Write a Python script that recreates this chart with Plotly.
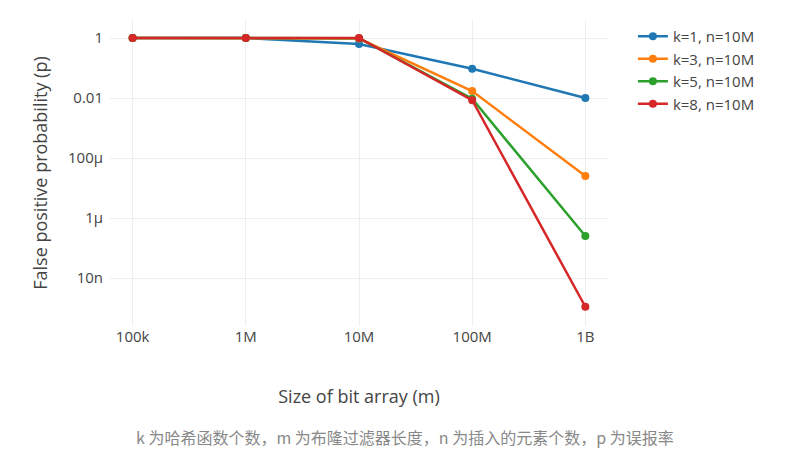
import plotly.graph_objects as go

m_sizes = [1e5, 1e6, 1e7, 1e8, 1e9]
x_ticks = [1e5, 1e6, 1e7, 1e8, 1e9]
x_labels = ["100k", "1M", "10M", "100M", "1B"]
y_ticks = [1, 1e-2, 1e-4, 1e-6, 1e-8]
y_labels = ["1", "0.01", "100µ", "1µ", "10n"]

series_names = ["k=1, n=10M", "k=3, n=10M", "k=5, n=10M", "k=8, n=10M"]
p_k1 = [1.0, 1.0, 0.63, 0.095, 0.01]
p_k3 = [1.0, 1.0, 0.96, 0.017, 2.5e-5]
p_k5 = [1.0, 1.0, 0.99, 0.0094, 2.5e-7]
p_k8 = [1.0, 1.0, 1.0, 0.0084, 1.1e-9]
colors = ["#1f77b4", "#ff7f0e", "#2ca02c", "#d62728"]

fig = go.Figure()
for name, ys, c in zip(series_names, [p_k1, p_k3, p_k5, p_k8], colors):
    fig.add_trace(go.Scatter(x=m_sizes, y=ys, name=name, mode="lines+markers",
                             line=dict(color=c, width=2.5), marker=dict(size=8, color=c)))

fig.update_layout(
    width=792, height=476,
    margin=dict(l=102, r=192, t=12, b=158),
    paper_bgcolor="white", plot_bgcolor="white",
    font=dict(family="Open Sans", color="#444", size=15),
    legend=dict(x=1.05, y=1.0, xanchor="left", yanchor="top", font=dict(size=15)),
    xaxis=dict(type="log", range=[4.8, 9.2], tickvals=x_ticks, ticktext=x_labels,
               showgrid=True, gridcolor="#eee", zeroline=False, showline=False,
               title=dict(text="Size of bit array (m)", font=dict(size=18), standoff=45)),
    yaxis=dict(type="log", range=[-9.6, 0.6], tickvals=y_ticks, ticktext=y_labels,
               showgrid=True, gridcolor="#eee", zeroline=False, showline=False,
               ticklabelstandoff=6,
               title=dict(text="False positive probability (p)", font=dict(size=18))),
    annotations=[dict(text="k 为哈希函数个数，m 为布隆过滤器长度，n 为插入的元素个数，p 为误报率",
                      xref="paper", yref="paper", x=(397-102)/498, y=-(438-327)/306,
                      xanchor="center", yanchor="middle", showarrow=False,
                      font=dict(family="Noto Sans CJK SC", size=16, color="#888"))],
)
fig.write_html("out.html")
